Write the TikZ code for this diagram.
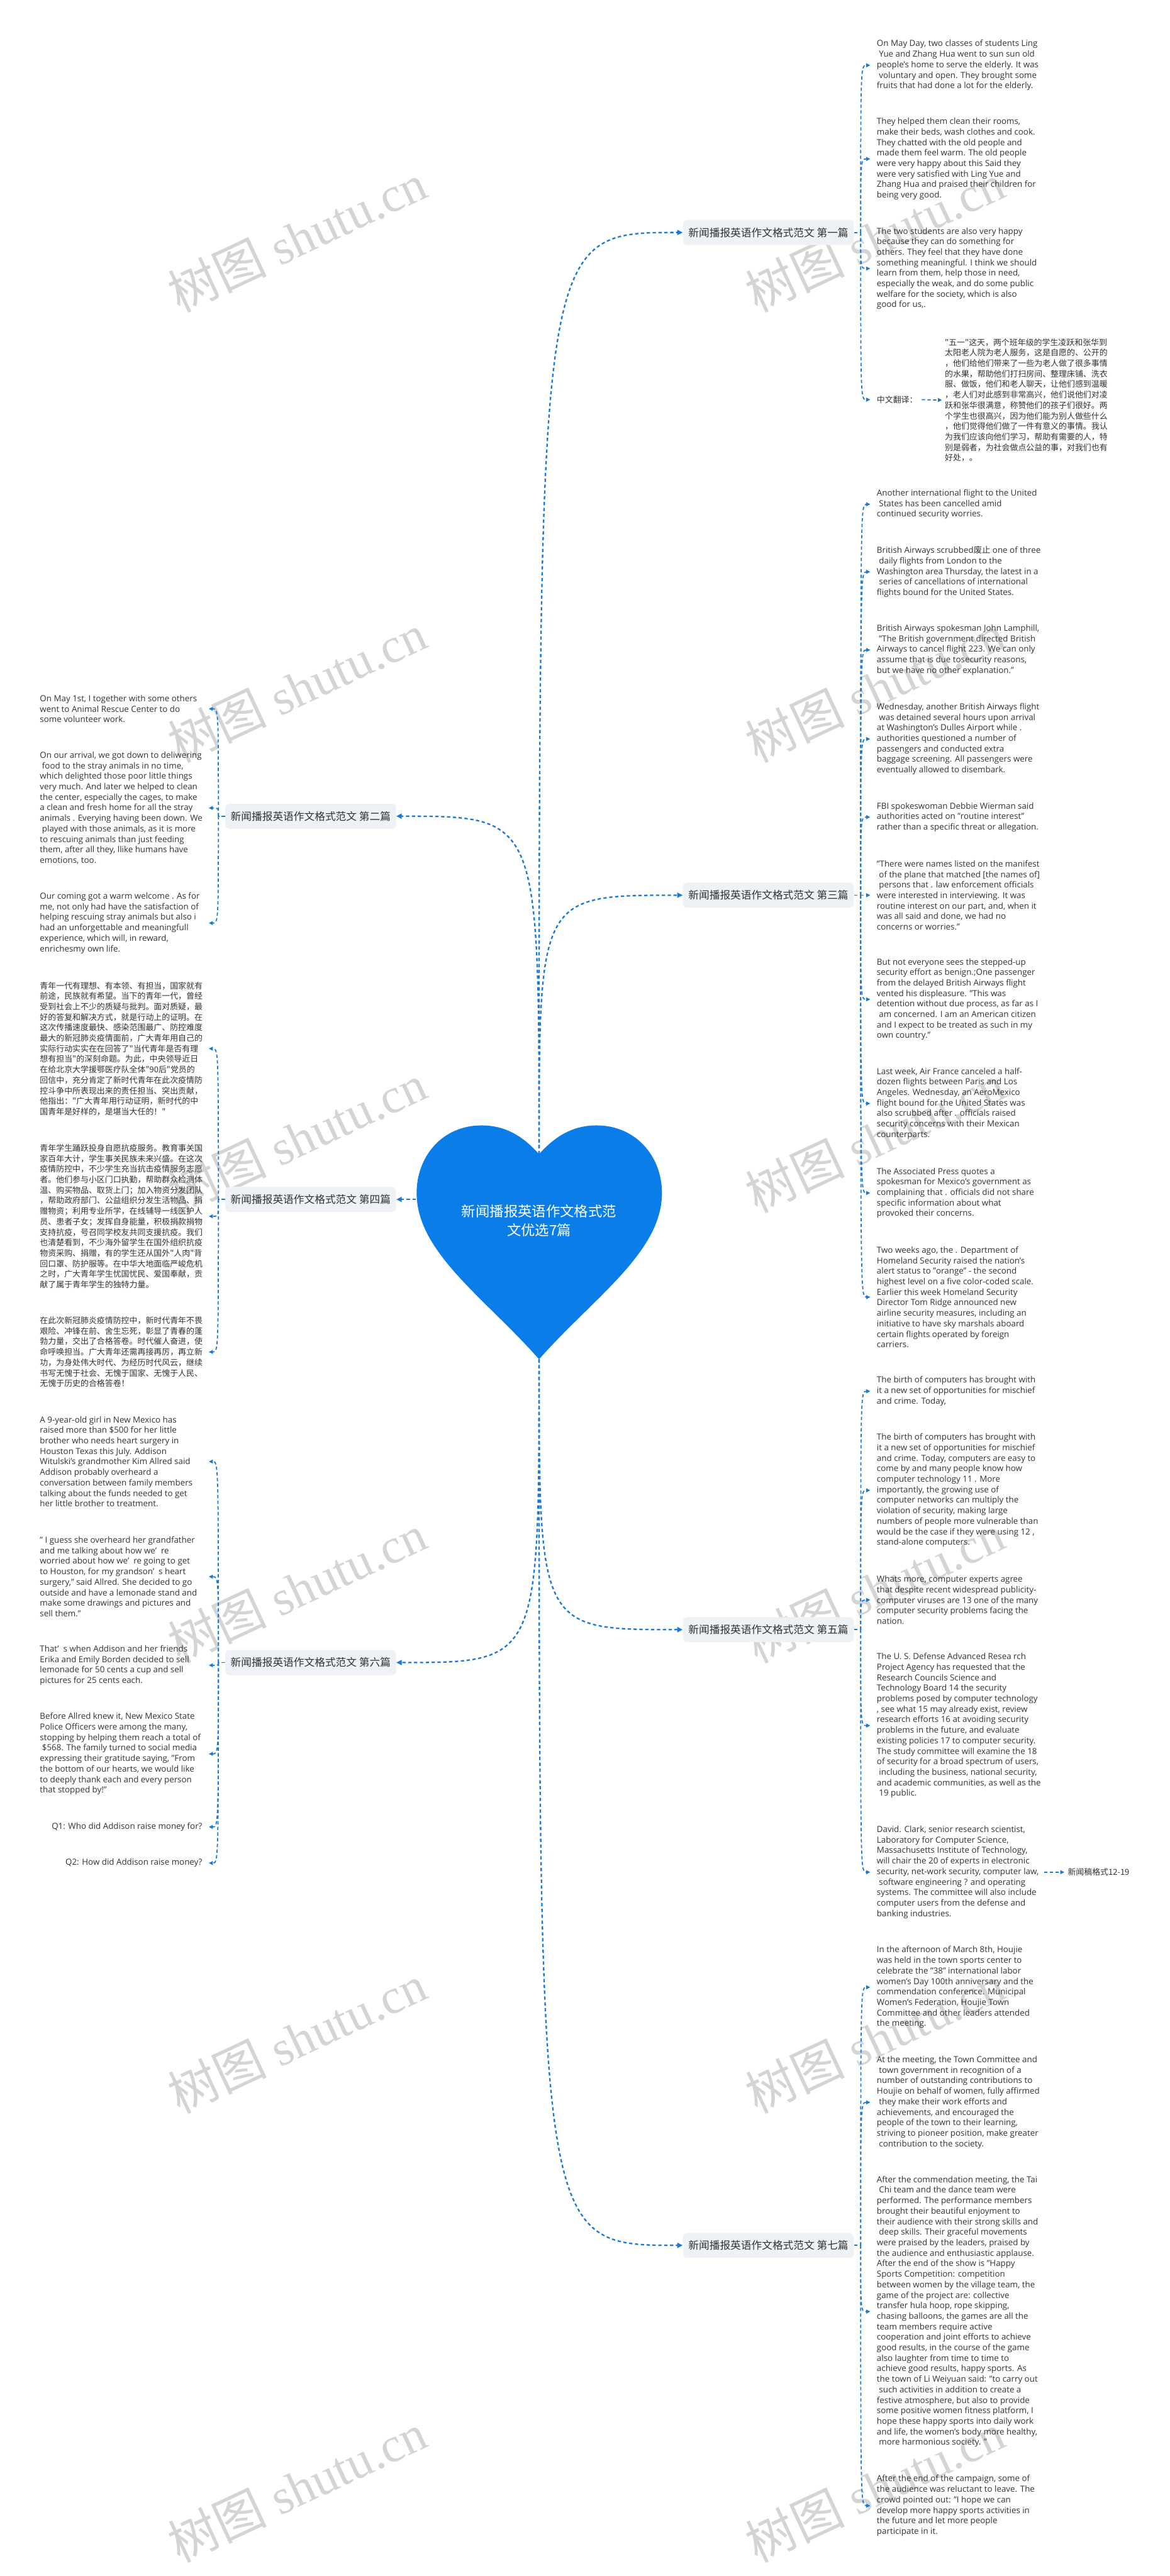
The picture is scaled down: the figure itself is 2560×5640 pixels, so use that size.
\documentclass[tikz,border=0pt]{standalone}
\usepackage{fontspec}
\setmainfont{Open Sans}
\newfontfamily\cjk{Noto Sans CJK SC}
\newfontfamily\wmserif{Liberation Serif}
\usetikzlibrary{arrows.meta}
\definecolor{lnk}{RGB}{26,120,214}
\definecolor{heartc}{RGB}{10,125,232}
\definecolor{lblfill}{RGB}{238,241,245}
\definecolor{txt}{RGB}{50,50,50}
\definecolor{wmc}{RGB}{212,212,212}
\newcommand{\lsp}{\hspace*{0.26em}}
\begin{document}
\begin{tikzpicture}[x=0.5pt,y=-0.5pt,
 mainlink/.style={draw=lnk,line width=1.6pt,dash pattern=on 3.6pt off 2.8pt,-{Triangle[length=6pt,width=5.5pt]}},
 sublink/.style={draw=lnk,line width=1.2pt,dash pattern=on 3.6pt off 2.6pt,-{Triangle[length=4.5pt,width=4.2pt]}},
 stub/.style={draw=lnk,line width=1.2pt,dash pattern=on 3.6pt off 2.6pt},
 branchbox/.style={fill=lblfill,rounded corners=5pt,inner xsep=6pt,inner ysep=0pt,minimum height=27.5pt,text=txt,font=\cjk\fontsize{11.5pt}{13pt}\selectfont},
 entxt/.style={anchor=west,inner sep=0pt,align=left,text=txt,font=\fontsize{9.2pt}{11.5pt}\selectfont},
 zhtxt/.style={anchor=west,inner sep=0pt,align=left,text=txt,font=\cjk\fontsize{8.9pt}{11.5pt}\selectfont},
 wmark/.style={text=wmc,rotate=25,inner sep=0pt,font=\wmserif\fontsize{54pt}{58pt}\selectfont},
]
\useasboundingbox (0,0) rectangle (2560,5640);
\fill[white] (0,0) rectangle (2560,5640);

% watermarks
\foreach \yy in {520,1506,2492,3478,4464,5446}{
  \node[wmark] (wmL\yy) at (650,\yy) {{\cjk 树图} shutu.cn};
  \node[wmark] (wmR\yy) at (1915,\yy) {{\cjk 树图} shutu.cn};
}

% heart
\fill[heartc] (1180,2527) .. controls (1140,2482) and (1100,2464) .. (1054,2464)
 .. controls (968,2464) and (912,2532) .. (912,2612)
 .. controls (912,2742) and (1062,2842) .. (1180,2976)
 .. controls (1298,2842) and (1449,2742) .. (1449,2612)
 .. controls (1449,2532) and (1392,2464) .. (1306,2464)
 .. controls (1260,2464) and (1220,2482) .. (1180,2527) -- cycle;
\node[text=white,align=center,font=\cjk\fontsize{15.4pt}{20.5pt}\selectfont] (root) at (1180,2672) {新闻播报英语作文格式范\\文优选7篇};
\coordinate (hTop) at (1180,2527);
\coordinate (hBot) at (1180,2976);
\coordinate (hLeft) at (910,2626);

% branch labels
\node[branchbox] (b1) at (1682,509) {新闻播报英语作文格式范文 第一篇};
\node[branchbox] (b3) at (1682,1960) {新闻播报英语作文格式范文 第三篇};
\node[branchbox] (b5) at (1682,3568) {新闻播报英语作文格式范文 第五篇};
\node[branchbox] (b7) at (1682,4916) {新闻播报英语作文格式范文 第七篇};
\node[branchbox] (b2) at (680,1787) {新闻播报英语作文格式范文 第二篇};
\node[branchbox] (b4) at (680,2626) {新闻播报英语作文格式范文 第四篇};
\node[branchbox] (b6) at (680,3640) {新闻播报英语作文格式范文 第六篇};

\coordinate (t1) at (1884,509);
\coordinate (t3) at (1884,1960);
\coordinate (t5) at (1884,3568);
\coordinate (t7) at (1884,4916);
\coordinate (t2) at (478,1787);
\coordinate (t4) at (478,2626);
\coordinate (t6) at (478,3640);
\coordinate (Ltip) at (457,0);

% ---------- branch 1
\node[entxt] (c1) at (1919,143) {On May Day, two classes of students Ling\\
\lsp Yue and Zhang Hua went to sun sun old\\
people's home to serve the elderly. It was\\
\lsp voluntary and open. They brought some\\
fruits that had done a lot for the elderly.};
\node[entxt] (c2) at (1919,348) {They helped them clean their rooms,\\
make their beds, wash clothes and cook.\\
They chatted with the old people and\\
made them feel warm. The old people\\
were very happy about this Said they\\
were very satisfied with Ling Yue and\\
Zhang Hua and praised their children for\\
being very good.};
\node[entxt] (c3) at (1919,588) {The two students are also very happy\\
because they can do something for\\
others. They feel that they have done\\
something meaningful. I think we should\\
learn from them, help those in need,\\
especially the weak, and do some public\\
welfare for the society, which is also\\
good for us,.};
\node[zhtxt] (zw) at (1919,875) {中文翻译：};
\node[zhtxt] (cn) at (2068,876) {"五一"这天，两个班年级的学生凌跃和张华到\\
太阳老人院为老人服务，这是自愿的、公开的\\
，他们给他们带来了一些为老人做了很多事情\\
的水果，帮助他们打扫房间、整理床铺、洗衣\\
服、做饭，他们和老人聊天，让他们感到温暖\\
，老人们对此感到非常高兴，他们说他们对凌\\
跃和张华很满意，称赞他们的孩子们很好。两\\
个学生也很高兴，因为他们能为别人做些什么\\
，他们觉得他们做了一件有意义的事情。我认\\
为我们应该向他们学习，帮助有需要的人，特\\
别是弱者，为社会做点公益的事，对我们也有\\
好处，。};

% ---------- branch 3
\node[entxt] (d1) at (1919,1104) {Another international flight to the United\\
\lsp States has been cancelled amid\\
continued security worries.};
\node[entxt] (d2) at (1919,1252) {British Airways scrubbed{\cjk 废止} one of three\\
\lsp daily flights from London to the\\
Washington area Thursday, the latest in a\\
\lsp series of cancellations of international\\
flights bound for the United States.};
\node[entxt] (d3) at (1919,1423) {British Airways spokesman John Lamphill,\\
\lsp "The British government directed British\\
Airways to cancel flight 223. We can only\\
assume that is due tosecurity reasons,\\
but we have no other explanation."};
\node[entxt] (d4) at (1919,1618) {Wednesday, another British Airways flight\\
\lsp was detained several hours upon arrival\\
at Washington's Dulles Airport while .\\
authorities questioned a number of\\
passengers and conducted extra\\
baggage screening. All passengers were\\
eventually allowed to disembark.};
\node[entxt] (d5) at (1919,1789) {FBI spokeswoman Debbie Wierman said\\
authorities acted on "routine interest"\\
rather than a specific threat or allegation.};
\node[entxt] (d6) at (1919,1960) {"There were names listed on the manifest\\
\lsp of the plane that matched [the names of]\\
\lsp persons that . law enforcement officials\\
were interested in interviewing. It was\\
routine interest on our part, and, when it\\
was all said and done, we had no\\
concerns or worries."};
\node[entxt] (d7) at (1919,2188) {But not everyone sees the stepped-up\\
security effort as benign.;One passenger\\
from the delayed British Airways flight\\
vented his displeasure. "This was\\
detention without due process, as far as I\\
\lsp am concerned. I am an American citizen\\
and I expect to be treated as such in my\\
own country."};
\node[entxt] (d8) at (1919,2416) {Last week, Air France canceled a half-\\
dozen flights between Paris and Los\\
Angeles. Wednesday, an AeroMexico\\
flight bound for the United States was\\
also scrubbed after . officials raised\\
security concerns with their Mexican\\
counterparts.};
\node[entxt] (d9) at (1919,2612) {The Associated Press quotes a\\
spokesman for Mexico's government as\\
complaining that . officials did not share\\
specific information about what\\
provoked their concerns.};
\node[entxt] (d10) at (1919,2840) {Two weeks ago, the . Department of\\
Homeland Security raised the nation's\\
alert status to "orange" - the second\\
highest level on a five color-coded scale.\\
Earlier this week Homeland Security\\
Director Tom Ridge announced new\\
airline security measures, including an\\
initiative to have sky marshals aboard\\
certain flights operated by foreign\\
carriers.};

% ---------- branch 5
\node[entxt] (e1) at (1919,3046) {The birth of computers has brought with\\
it a new set of opportunities for mischief\\
and crime. Today,};
\node[entxt] (e2) at (1919,3263) {The birth of computers has brought with\\
it a new set of opportunities for mischief\\
and crime. Today, computers are easy to\\
come by and many people know how\\
computer technology 11 . More\\
importantly, the growing use of\\
computer networks can multiply the\\
violation of security, making large\\
numbers of people more vulnerable than\\
would be the case if they were using 12 ,\\
stand-alone computers.};
\node[entxt] (e3) at (1919,3503) {Whats more, computer experts agree\\
that despite recent widespread publicity-\\
computer viruses are 13 one of the many\\
computer security problems facing the\\
nation.};
\node[entxt] (e4) at (1919,3778) {The U. S. Defense Advanced Resea rch\\
Project Agency has requested that the\\
Research Councils Science and\\
Technology Board 14 the security\\
problems posed by computer technology\\
, see what 15 may already exist, review\\
research efforts 16 at avoiding security\\
problems in the future, and evaluate\\
existing policies 17 to computer security.\\
The study committee will examine the 18\\
of security for a broad spectrum of users,\\
\lsp including the business, national security,\\
and academic communities, as well as the\\
\lsp 19 public.};
\node[entxt] (e5) at (1919,4099) {David. Clark, senior research scientist,\\
Laboratory for Computer Science,\\
Massachusetts Institute of Technology,\\
will chair the 20 of experts in electronic\\
security, net-work security, computer law,\\
\lsp software engineering ? and operating\\
systems. The committee will also include\\
computer users from the defense and\\
banking industries.};
\node[zhtxt] (cb) at (2337,4099) {新闻稿格式12-19};

% ---------- branch 7
\node[entxt] (f1) at (1919,4351) {In the afternoon of March 8th, Houjie\\
was held in the town sports center to\\
celebrate the "38" international labor\\
women's Day 100th anniversary and the\\
commendation conference. Municipal\\
Women's Federation, Houjie Town\\
Committee and other leaders attended\\
the meeting.};
\node[entxt] (f2) at (1919,4603) {At the meeting, the Town Committee and\\
\lsp town government in recognition of a\\
number of outstanding contributions to\\
Houjie on behalf of women, fully affirmed\\
\lsp they make their work efforts and\\
achievements, and encouraged the\\
people of the town to their learning,\\
striving to pioneer position, make greater\\
\lsp contribution to the society.};
\node[entxt] (f3) at (1919,5061) {After the commendation meeting, the Tai\\
\lsp Chi team and the dance team were\\
performed. The performance members\\
brought their beautiful enjoyment to\\
their audience with their strong skills and\\
\lsp deep skills. Their graceful movements\\
were praised by the leaders, praised by\\
the audience and enthusiastic applause.\\
After the end of the show is "Happy\\
Sports Competition: competition\\
between women by the village team, the\\
game of the project are: collective\\
transfer hula hoop, rope skipping,\\
chasing balloons, the games are all the\\
team members require active\\
cooperation and joint efforts to achieve\\
good results, in the course of the game\\
also laughter from time to time to\\
achieve good results, happy sports. As\\
the town of Li Weiyuan said: "to carry out\\
\lsp such activities in addition to create a\\
festive atmosphere, but also to provide\\
some positive women fitness platform, I\\
hope these happy sports into daily work\\
and life, the women's body more healthy,\\
\lsp more harmonious society. "};
\node[entxt] (f4) at (1919,5486) {After the end of the campaign, some of\\
the audience was reluctant to leave. The\\
crowd pointed out: "I hope we can\\
develop more happy sports activities in\\
the future and let more people\\
participate in it.};

% ---------- branch 2
\node[entxt] (g1) at (87,1552) {On May 1st, I together with some others\\
went to Animal Rescue Center to do\\
some volunteer work.};
\node[entxt] (g2) at (87,1769) {On our arrival, we got down to deliwering\\
\lsp food to the stray animals in no time,\\
which delighted those poor little things\\
very much. And later we helped to clean\\
the center, especially the cages, to make\\
a clean and fresh home for all the stray\\
animals . Everying having been down. We\\
\lsp played with those animals, as it is more\\
to rescuing animals than just feeding\\
them, after all they, llike humans have\\
emotions, too.};
\node[entxt] (g3) at (87,2021) {Our coming got a warm welcome . As for\\
me, not only had have the satisfaction of\\
helping rescuing stray animals but also i\\
had an unforgettable and meaningfull\\
experience, which will, in reward,\\
enrichesmy own life.};

% ---------- branch 4
\node[zhtxt] (h1) at (87,2296) {青年一代有理想、有本领、有担当，国家就有\\
前途，民族就有希望。当下的青年一代，曾经\\
受到社会上不少的质疑与批判。面对质疑，最\\
好的答复和解决方式，就是行动上的证明。在\\
这次传播速度最快、感染范围最广、防控难度\\
最大的新冠肺炎疫情面前，广大青年用自己的\\
实际行动实实在在回答了"当代青年是否有理\\
想有担当"的深刻命题。为此，中央领导近日\\
在给北京大学援鄂医疗队全体"90后"党员的\\
回信中，充分肯定了新时代青年在此次疫情防\\
控斗争中所表现出来的责任担当、突出贡献，\\
他指出："广大青年用行动证明，新时代的中\\
国青年是好样的，是堪当大任的！"};
\node[zhtxt] (h2) at (87,2663) {青年学生踊跃投身自愿抗疫服务。教育事关国\\
家百年大计，学生事关民族未来兴盛。在这次\\
疫情防控中，不少学生充当抗击疫情服务志愿\\
者。他们参与小区门口执勤，帮助群众检测体\\
温、购买物品、取货上门；加入物资分发团队\\
，帮助政府部门、公益组织分发生活物品、捐\\
赠物资；利用专业所学，在线辅导一线医护人\\
员、患者子女；发挥自身能量，积极捐款捐物\\
支持抗疫，号召同学校友共同支援抗疫。我们\\
也清楚看到，不少海外留学生在国外组织抗疫\\
物资采购、捐赠，有的学生还从国外"人肉"背\\
回口罩、防护服等。在中华大地面临严峻危机\\
之时，广大青年学生忧国忧民、爱国奉献，贡\\
献了属于青年学生的独特力量。};
\node[zhtxt] (h3) at (87,2960) {在此次新冠肺炎疫情防控中，新时代青年不畏\\
艰险、冲锋在前、舍生忘死，彰显了青春的蓬\\
勃力量，交出了合格答卷。时代催人奋进，使\\
命呼唤担当。广大青年还需再接再厉，再立新\\
功，为身处伟大时代、为经历时代风云，继续\\
书写无愧于社会、无愧于国家、无愧于人民、\\
无愧于历史的合格答卷！};

% ---------- branch 6
\node[entxt] (k1) at (87,3200) {A 9-year-old girl in New Mexico has\\
raised more than \$500 for her little\\
brother who needs heart surgery in\\
Houston Texas this July. Addison\\
Witulski's grandmother Kim Allred said\\
Addison probably overheard a\\
conversation between family members\\
talking about the funds needed to get\\
her little brother to treatment.};
\node[entxt] (k2) at (87,3452) {" I guess she overheard her grandfather\\
and me talking about how we’\ \ re\\
worried about how we’\ \ re going to get\\
to Houston, for my grandson’\ \ s heart\\
surgery," said Allred. She decided to go\\
outside and have a lemonade stand and\\
make some drawings and pictures and\\
sell them."};
\node[entxt] (k3) at (87,3646) {That’\ \ s when Addison and her friends\\
Erika and Emily Borden decided to sell\\
lemonade for 50 cents a cup and sell\\
pictures for 25 cents each.};
\node[entxt] (k4) at (87,3840) {Before Allred knew it, New Mexico State\\
Police Officers were among the many,\\
stopping by helping them reach a total of\\
\lsp\$568. The family turned to social media\\
expressing their gratitude saying, "From\\
the bottom of our hearts, we would like\\
to deeply thank each and every person\\
that stopped by!"};
\node[entxt,anchor=east] (k5) at (443,4000) {Q1: Who did Addison raise money for?};
\node[entxt,anchor=east] (k6) at (443,4079) {Q2: How did Addison raise money?};

% ---------- main connectors
\draw[mainlink] (hTop) .. controls (hTop |- b1.west) .. (b1.west);
\draw[mainlink] (hTop) .. controls (hTop |- b3.west) .. (b3.west);
\draw[mainlink] (hTop) .. controls (hTop |- b2.east) .. (b2.east);
\draw[mainlink] (hLeft) -- (b4.east);
\draw[mainlink] (hBot) .. controls (hBot |- b5.west) .. (b5.west);
\draw[mainlink] (hBot) .. controls (hBot |- b6.east) .. (b6.east);
\draw[mainlink] (hBot) .. controls (hBot |- b7.west) .. (b7.west);

% ---------- stubs
\draw[stub] (b1.east) -- (t1);
\draw[stub] (b3.east) -- (t3);
\draw[stub] (b5.east) -- (t5);
\draw[stub] (b7.east) -- (t7);
\draw[stub] (b2.west) -- (t2);
\draw[stub] (b4.west) -- (t4);
\draw[stub] (b6.west) -- (t6);

% ---------- child connectors right
\foreach \c in {c1,c2,c3,zw}
  \draw[sublink] (t1) .. controls (t1 |- \c.west) .. ([xshift=-7pt]\c.west);
\foreach \c in {d1,d2,d3,d4,d5,d6,d7,d8,d9,d10}
  \draw[sublink] (t3) .. controls (t3 |- \c.west) .. ([xshift=-7pt]\c.west);
\foreach \c in {e1,e2,e3,e4,e5}
  \draw[sublink] (t5) .. controls (t5 |- \c.west) .. ([xshift=-7pt]\c.west);
\foreach \c in {f1,f2,f3,f4}
  \draw[sublink] (t7) .. controls (t7 |- \c.west) .. ([xshift=-7pt]\c.west);
% ---------- child connectors left
\foreach \c in {g1,g2,g3}
  \draw[sublink] (t2) .. controls (t2 |- \c.west) .. (Ltip |- \c.west);
\foreach \c in {h1,h2,h3}
  \draw[sublink] (t4) .. controls (t4 |- \c.west) .. (Ltip |- \c.west);
\foreach \c in {k1,k2,k3,k4,k5,k6}
  \draw[sublink] (t6) .. controls (t6 |- \c.west) .. (Ltip |- \c.west);

\draw[sublink] ([xshift=4.5pt]zw.east) -- ([xshift=-3pt]cn.west);
\draw[sublink] ([xshift=5.5pt]e5.east) -- ([xshift=-3.5pt]cb.west);
\end{tikzpicture}
\end{document}
